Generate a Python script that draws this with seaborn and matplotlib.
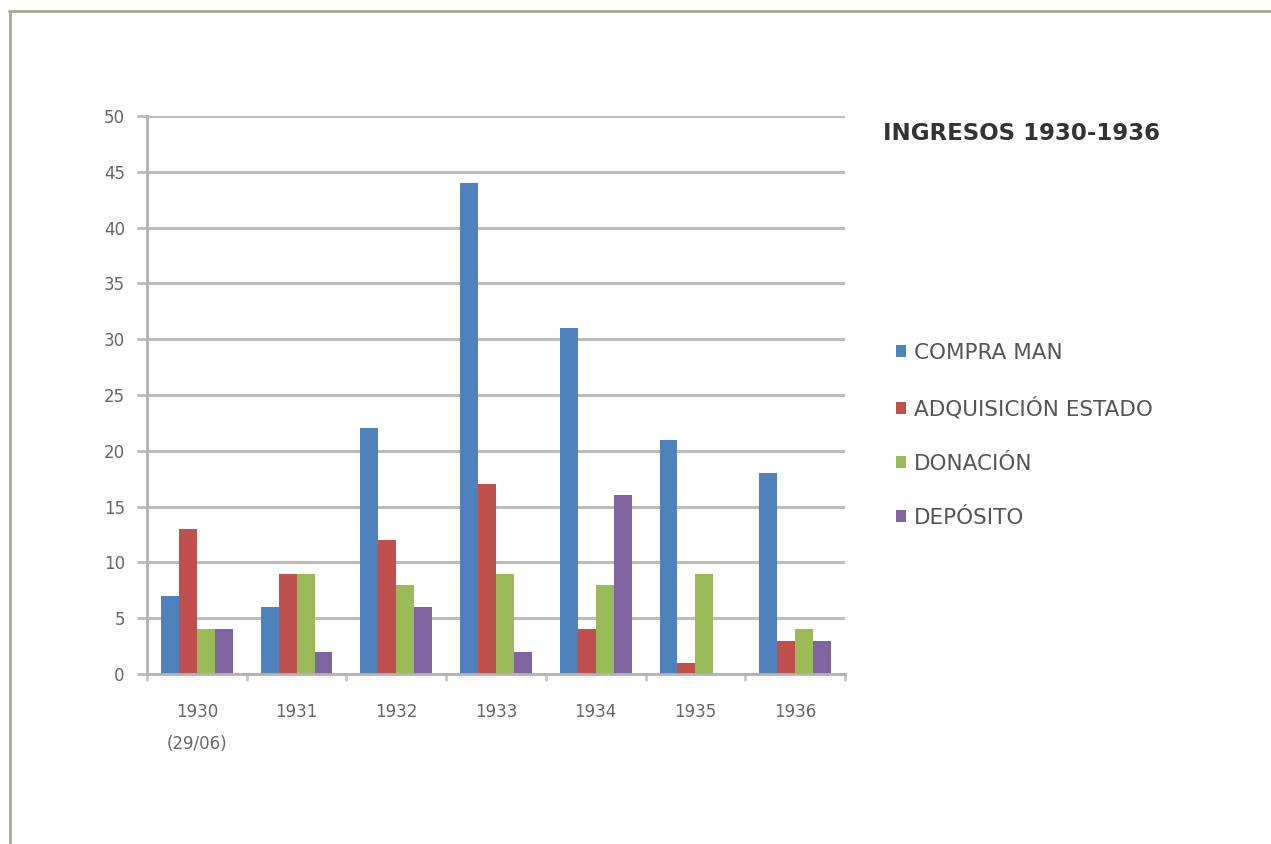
import matplotlib
matplotlib.use("Agg")
import matplotlib.pyplot as plt
from matplotlib.lines import Line2D
from matplotlib.patches import Patch
import seaborn as sns
import pandas as pd

# Acquisitions per year, by type of entry
years = ["1930\n(29/06)", "1931", "1932", "1933", "1934", "1935", "1936"]
compra_man = [7, 6, 22, 44, 31, 21, 18]
adquisicion_estado = [13, 9, 12, 17, 4, 1, 3]
donacion = [4, 9, 8, 9, 8, 9, 4]
deposito = [4, 2, 6, 2, 16, 0, 3]
series_names = ["COMPRA MAN", "ADQUISICIÓN ESTADO", "DONACIÓN", "DEPÓSITO"]
y_ticks = [0, 5, 10, 15, 20, 25, 30, 35, 40, 45, 50]
title = "INGRESOS 1930-1936"

colors = ["#4F81BD", "#C0504D", "#9BBB59", "#8064A2"]

rows = []
for name, vals in zip(series_names, [compra_man, adquisicion_estado, donacion, deposito]):
    for yr, v in zip(years, vals):
        rows.append({"year": yr, "tipo": name, "n": v})
df = pd.DataFrame(rows)

sns.set_theme(style="white")
plt.rcParams["font.family"] = ["DejaVu Sans"]

fig = plt.figure(figsize=(12.71, 8.44), dpi=100)
fig.patch.set_facecolor("white")
ax = fig.add_axes([147 / 1271, 1 - 674 / 844, (845 - 147) / 1271, (674 - 116) / 844])

sns.barplot(data=df, x="year", y="n", hue="tipo", hue_order=series_names,
            order=years, palette=colors, width=0.72, gap=0, saturation=1,
            edgecolor="none", ax=ax, legend=False)

ax.set_ylim(0, 50)
ax.set_xlim(-0.5, len(years) - 0.5)
ax.set_yticks(y_ticks)
ax.set_yticklabels([str(t) for t in y_ticks])
ax.set_xlabel("")
ax.set_ylabel("")

# horizontal gridlines
ax.set_axisbelow(True)
ax.yaxis.grid(True, color="#bdbdbd", linewidth=2.2)
ax.xaxis.grid(False)

for side in ["top", "right"]:
    ax.spines[side].set_visible(False)
for side in ["left", "bottom"]:
    ax.spines[side].set_color("#b3b3b3")
    ax.spines[side].set_linewidth(2)

# category-boundary tick marks on x axis
ax.set_xticks(range(len(years)))
ax.set_xticklabels(years, linespacing=2.0)
ax.set_xticks([i + 0.5 for i in range(-1, len(years))], minor=True)
ax.tick_params(axis="x", which="major", length=0, pad=21, labelsize=12, labelcolor="#666666")
ax.tick_params(axis="x", which="minor", length=5, width=2, color="#c8c8c8", direction="out", bottom=True)
ax.tick_params(axis="y", which="major", length=7, width=2, color="#bdbdbd", left=True,
               pad=9, labelsize=12, labelcolor="#666666")

# legend on the right
fig.text(883 / 1271, 1 - 133 / 844, title, fontsize=16.5, fontweight="bold",
         color="#333333", va="center", ha="left")
handles = [Patch(facecolor=c, edgecolor="none") for c in colors]
leg = fig.legend(handles, series_names, loc="upper left",
                 bbox_to_anchor=(887 / 1271, 1 - 334 / 844), frameon=False,
                 fontsize=15.5, labelcolor="#555555", handlelength=0.5, handleheight=0.5,
                 handletextpad=0.35, labelspacing=1.59, borderaxespad=0)

# outer frame (top and left edges)
fig.add_artist(Line2D([9 / 1271, 1.0], [1 - 11 / 844, 1 - 11 / 844],
                      transform=fig.transFigure, color="#a9a795", linewidth=2))
fig.add_artist(Line2D([10 / 1271, 10 / 1271], [0.0, 1 - 11 / 844],
                      transform=fig.transFigure, color="#a9a795", linewidth=2))

fig.savefig("out.png", dpi=100, facecolor="white")
